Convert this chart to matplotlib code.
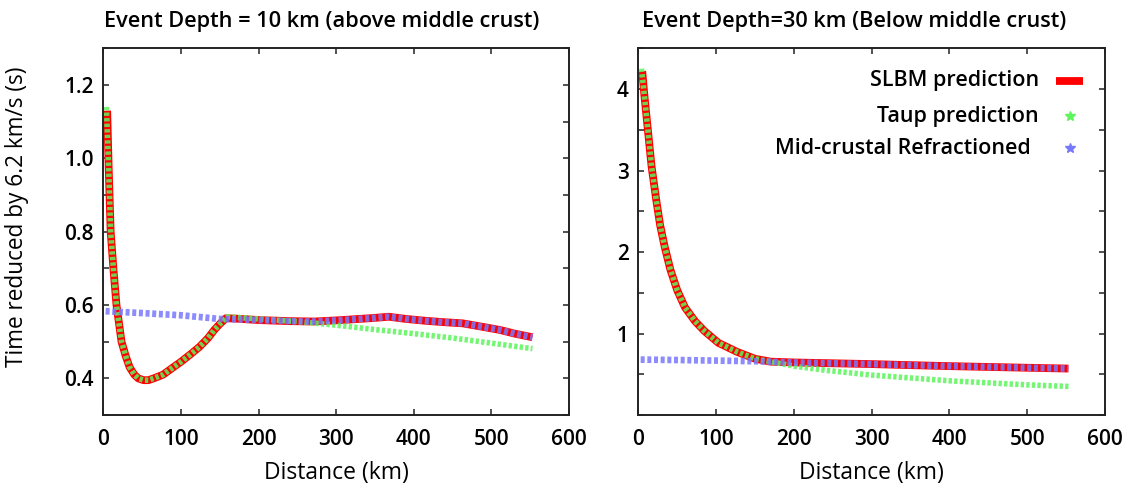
import matplotlib
matplotlib.use("Agg")
import matplotlib.pyplot as plt
from matplotlib.ticker import MultipleLocator

# =========================
# DATA
# =========================

# event depth 10 km
dist_slbm_10 = [5, 7, 9.5, 13, 17, 23.5, 29, 34, 40, 45, 52, 58, 65, 77, 90, 100, 112, 124,
                135, 143, 150, 158, 170, 200, 240, 272, 300, 344, 368, 390, 415, 440, 463,
                490, 511, 530, 553]
time_slbm_10 = [1.13, 0.97, 0.80, 0.70, 0.60, 0.50, 0.46, 0.43, 0.41, 0.40, 0.395, 0.395, 0.40,
                0.41, 0.43, 0.445, 0.465, 0.486, 0.51, 0.532, 0.548, 0.564, 0.563, 0.559, 0.556,
                0.555, 0.558, 0.564, 0.568, 0.562, 0.557, 0.553, 0.55, 0.54, 0.532, 0.522, 0.512]

dist_taup_10 = [4, 7, 9.5, 13, 17, 23.5, 29, 34, 40, 45, 52, 58, 65, 77, 90, 100, 112, 124,
                135, 143, 150, 160, 200, 250, 300, 350, 400, 450, 500, 553]
time_taup_10 = [1.14, 0.97, 0.80, 0.70, 0.60, 0.50, 0.46, 0.43, 0.41, 0.40, 0.395, 0.395, 0.40,
                0.41, 0.43, 0.445, 0.465, 0.486, 0.51, 0.532, 0.548, 0.568, 0.562, 0.555, 0.545,
                0.533, 0.522, 0.51, 0.496, 0.481]

dist_mid_10 = [3, 50, 100, 150, 200, 240, 272, 300, 344, 368, 390, 415, 440, 463, 490, 511,
               530, 553]
time_mid_10 = [0.583, 0.578, 0.572, 0.562, 0.559, 0.556, 0.555, 0.558, 0.564, 0.568, 0.562,
               0.557, 0.553, 0.55, 0.54, 0.532, 0.522, 0.512]

# event depth 30 km
dist_slbm_30 = [5, 8, 11.5, 17, 23, 28, 33.5, 41, 50, 60, 73, 85, 103, 127, 150, 170, 200,
                250, 300, 350, 400, 450, 500, 553]
time_slbm_30 = [4.22, 3.9, 3.57, 3.05, 2.64, 2.33, 2.08, 1.79, 1.53, 1.32, 1.15, 1.03, 0.885,
                0.775, 0.69, 0.655, 0.645, 0.635, 0.625, 0.612, 0.60, 0.59, 0.58, 0.57]

dist_taup_30 = [4, 8, 11.5, 17, 23, 28, 33.5, 41, 50, 60, 73, 85, 103, 127, 150, 170, 200,
                240, 300, 350, 400, 450, 500, 555]
time_taup_30 = [4.25, 3.9, 3.57, 3.05, 2.64, 2.33, 2.08, 1.79, 1.53, 1.32, 1.15, 1.03, 0.885,
                0.775, 0.69, 0.655, 0.60, 0.55, 0.49, 0.455, 0.42, 0.395, 0.37, 0.35]

dist_mid_30 = [3, 50, 100, 150, 175, 200, 250, 300, 350, 400, 450, 500, 553]
time_mid_30 = [0.68, 0.675, 0.668, 0.66, 0.652, 0.645, 0.635, 0.625, 0.612, 0.60, 0.59, 0.58,
               0.57]

titles = ["Event Depth = 10 km (above middle crust)",
          "Event Depth=30 km (Below middle crust)"]
legend_labels = ["SLBM prediction", "Taup prediction", "Mid-crustal Refractioned"]

# =========================
# STYLE
# =========================

plt.rcParams['font.family'] = ['Open Sans', 'DejaVu Sans']
plt.rcParams['font.size'] = 15
plt.rcParams['font.weight'] = 'semibold'

red = '#ff0000'
green = '#5cf55c'
blue = '#7878ff'

fig = plt.figure(figsize=(11.3, 4.87), dpi=100)
ax1 = fig.add_axes([0.0914, 0.1478, 0.4121, 0.753])
ax2 = fig.add_axes([0.5649, 0.1478, 0.4130, 0.753])

panels = [
    (ax1, dist_slbm_10, time_slbm_10, dist_taup_10, time_taup_10, dist_mid_10, time_mid_10),
    (ax2, dist_slbm_30, time_slbm_30, dist_taup_30, time_taup_30, dist_mid_30, time_mid_30),
]

# =========================
# DRAW CURVES
# =========================

for ax, ds, ts, dt, tt, dm, tm in panels:
    ax.plot(ds, ts, color=red, lw=5.6, solid_capstyle='butt', solid_joinstyle='round')
    ax.plot(dt, tt, color=green, lw=4.0, alpha=0.85, linestyle=(0, (0.6, 0.4)))
    ax.plot(dm, tm, color=blue, lw=4.8, alpha=0.85, linestyle=(0, (0.6, 0.4)))

    ax.set_xlim(0, 600)
    ax.xaxis.set_major_locator(MultipleLocator(100))
    ax.tick_params(which='both', direction='in', top=True, right=True,
                   length=4, width=1.2, color='#333333')
    ax.tick_params(axis='x', pad=10)
    ax.tick_params(axis='y', pad=7)
    for s in ax.spines.values():
        s.set_linewidth(1.4)
        s.set_color('#222222')
    ax.set_xlabel("Distance (km)", fontsize=16.5, labelpad=8)

ax1.set_ylim(0.3, 1.3)
ax1.yaxis.set_minor_locator(MultipleLocator(0.1))
ax1.set_yticks([0.4, 0.6, 0.8, 1.0, 1.2])
ax1.set_yticklabels(["0.4", "0.6", "0.8", "1.0", "1.2"])
ax1.set_ylabel("Time reduced by 6.2 km/s (s)", fontsize=16.3)
ax1.yaxis.set_label_coords(-0.16, 0.54)

ax2.set_ylim(0, 4.5)
ax2.set_yticks([1, 2, 3, 4])
ax2.yaxis.set_minor_locator(MultipleLocator(0.5))

# =========================
# TITLES
# =========================

ax1.text(0.47, 1.0725, titles[0], transform=ax1.transAxes, ha='center', va='center',
         fontsize=15.7)
ax2.text(0.462, 1.0725, titles[1], transform=ax2.transAxes, ha='center', va='center',
         fontsize=15.7)

# =========================
# LEGEND (gnuplot style, key on the right)
# =========================

ax2.plot([0.895, 0.953], [0.911, 0.911], transform=ax2.transAxes, color=red, lw=5.6,
         solid_capstyle='butt')
ax2.plot([0.925], [0.815], transform=ax2.transAxes, color=green, marker='*', ms=7, ls='none')
ax2.plot([0.925], [0.728], transform=ax2.transAxes, color=blue, marker='*', ms=7, ls='none')
ax2.text(0.858, 0.911, legend_labels[0], transform=ax2.transAxes, ha='right', va='center',
         fontsize=15.5)
ax2.text(0.858, 0.815, legend_labels[1], transform=ax2.transAxes, ha='right', va='center',
         fontsize=15.5)
ax2.text(0.841, 0.728, legend_labels[2], transform=ax2.transAxes, ha='right', va='center',
         fontsize=15.5)

plt.savefig("out.png", dpi=100)
